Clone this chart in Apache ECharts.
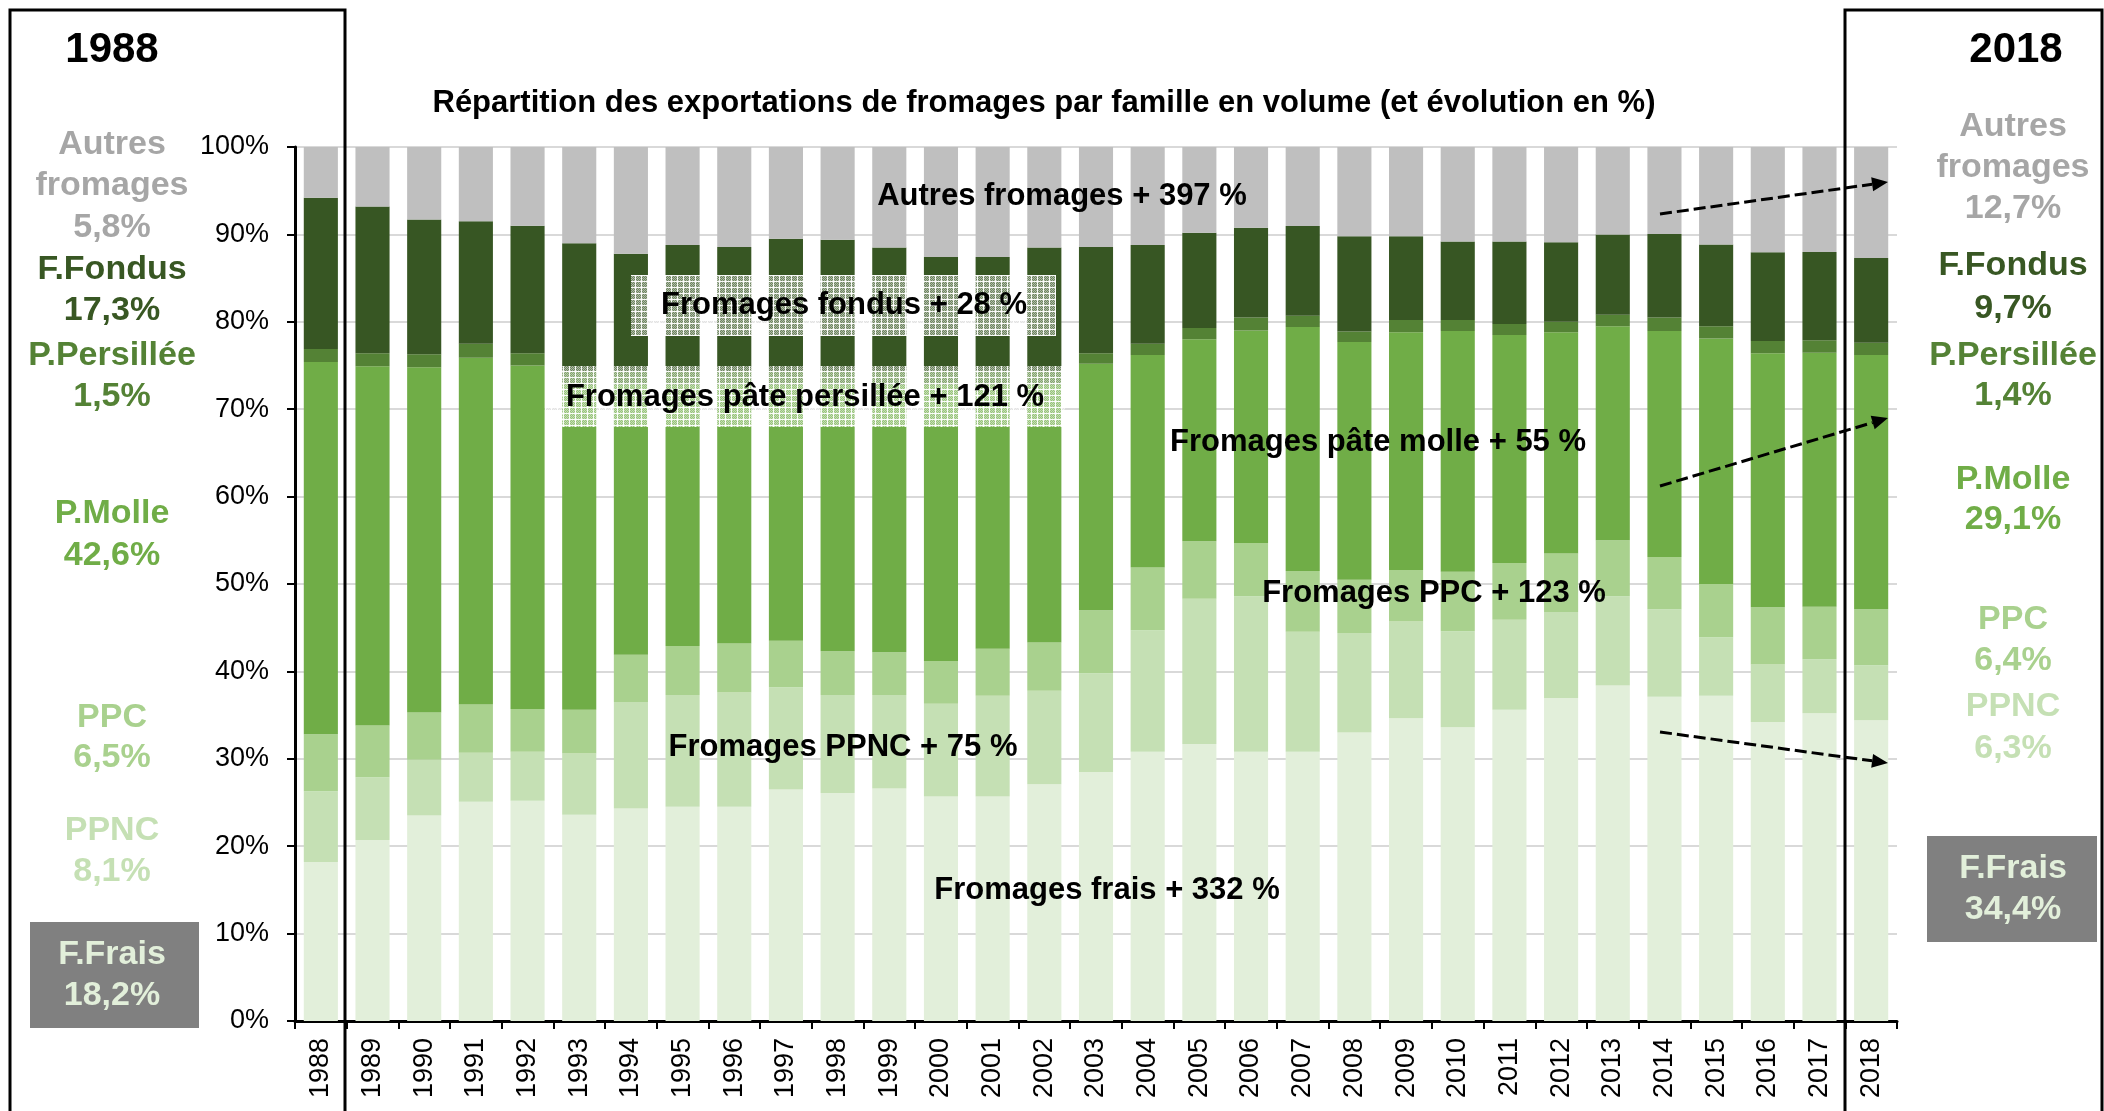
<!DOCTYPE html>
<html>
<head>
<meta charset="utf-8">
<title>Exportations de fromages</title>
<script src="https://cdn.jsdelivr.net/npm/echarts@6/dist/echarts.min.js"></script>
<style>
  html, body { margin: 0; padding: 0; background: #fff; }
  #chart { width: 2104px; height: 1111px; }
</style>
</head>
<body>
<div id="chart"></div>
<script>
// années
var years = ['1988', '1989', '1990', '1991', '1992', '1993', '1994', '1995', '1996', '1997',
  '1998', '1999', '2000', '2001', '2002', '2003', '2004', '2005', '2006', '2007',
  '2008', '2009', '2010', '2011', '2012', '2013', '2014', '2015', '2016', '2017', '2018'];

// part de chaque famille (%), de bas en haut de la pile
var frais = [18.2, 20.7, 23.5, 25.1, 25.2, 23.6, 24.3, 24.5, 24.5, 26.5,
  26.1, 26.6, 25.7, 25.7, 27.1, 28.5, 30.8, 31.7, 30.8, 30.8,
  33.0, 34.65, 33.6, 35.6, 36.95, 38.4, 37.1, 37.2, 34.2, 35.2, 34.4];
var ppnc = [8.1, 7.2, 6.4, 5.6, 5.6, 7.0, 12.2, 12.8, 13.1, 11.7,
  11.2, 10.7, 10.6, 11.5, 10.7, 11.3, 13.9, 16.6, 17.8, 13.75,
  11.4, 11.05, 11.0, 10.3, 9.85, 10.2, 10.0, 6.7, 6.6, 6.2, 6.3];
var ppc = [6.5, 5.9, 5.4, 5.5, 4.9, 5.0, 5.4, 5.6, 5.6, 5.3,
  5.0, 4.9, 4.9, 5.4, 5.5, 7.2, 7.2, 6.6, 6.1, 6.95,
  6.1, 5.9, 6.8, 6.5, 6.7, 6.4, 6.0, 6.1, 6.55, 6.0, 6.4];
var molle = [42.6, 41.1, 39.5, 39.7, 39.3, 37.2, 30.9, 29.9, 29.6, 29.3,
  30.5, 30.6, 31.6, 30.2, 29.5, 28.2, 24.3, 23.1, 24.3, 27.9,
  27.2, 27.2, 27.55, 26.1, 25.3, 24.5, 25.85, 28.1, 29.05, 29.05, 29.1];
var persillee = [1.5, 1.5, 1.5, 1.6, 1.4, 1.5, 1.5, 1.5, 1.5, 1.5,
  1.5, 1.5, 1.5, 1.5, 1.5, 1.2, 1.3, 1.3, 1.5, 1.3,
  1.2, 1.4, 1.25, 1.25, 1.2, 1.3, 1.55, 1.4, 1.4, 1.45, 1.4];
var fondus = [17.3, 16.8, 15.4, 14.0, 14.6, 14.7, 13.5, 14.5, 14.25, 15.2,
  15.1, 14.2, 13.1, 13.1, 14.2, 12.15, 11.3, 10.9, 10.25, 10.25,
  10.9, 9.6, 9.0, 9.45, 9.1, 9.2, 9.55, 9.35, 10.15, 10.1, 9.7];
var autres = [5.8, 6.8, 8.3, 8.5, 9.0, 11.0, 12.2, 11.2, 11.45, 10.5,
  10.6, 11.5, 12.6, 12.6, 11.5, 11.45, 11.2, 9.8, 9.25, 9.05,
  10.2, 10.2, 10.8, 10.8, 10.9, 10.0, 9.95, 11.15, 12.05, 12.0, 12.7];

var yTicks = [0, 10, 20, 30, 40, 50, 60, 70, 80, 90, 100];

// libellés des colonnes 1988 / 2018
var labels1988 = ['Autres', 'fromages', '5,8%', 'F.Fondus', '17,3%', 'P.Persillée', '1,5%',
  'P.Molle', '42,6%', 'PPC', '6,5%', 'PPNC', '8,1%', 'F.Frais', '18,2%'];
var labels2018 = ['Autres', 'fromages', '12,7%', 'F.Fondus', '9,7%', 'P.Persillée', '1,4%',
  'P.Molle', '29,1%', 'PPC', '6,4%', 'PPNC', '6,3%', 'F.Frais', '34,4%'];

var notes = ['Autres fromages + 397 %', 'Fromages fondus + 28 %', 'Fromages pâte persillée + 121 %',
  'Fromages pâte molle + 55 %', 'Fromages PPC + 123 %', 'Fromages PPNC + 75 %', 'Fromages frais + 332 %'];

var FONT = "'Liberation Sans', Arial, sans-serif";
var C_FRAIS = '#e2efda', C_PPNC = '#c5e0b4', C_PPC = '#a9d18e', C_MOLLE = '#70ad47',
  C_PERS = '#548235', C_FONDUS = '#375623', C_AUTRES = '#bfbfbf';

// motif quadrillé (blanc translucide) des encadrés
function makeHatch() {
  var c = document.createElement('canvas');
  c.width = 6; c.height = 6;
  var g = c.getContext('2d');
  for (var i = 0; i < 6; i++) {
    for (var j = 0; j < 6; j++) {
      g.fillStyle = (i + j) % 2 === 0 ? 'rgba(255,255,255,0.6)' : 'rgba(255,255,255,0.28)';
      g.fillRect(i, j, 1, 1);
    }
  }
  g.fillStyle = 'rgba(255,255,255,0.95)';
  g.fillRect(5, 0, 1, 6);
  g.fillRect(0, 5, 6, 1);
  return c;
}
var hatch = { image: makeHatch(), repeat: 'repeat' };

function txt(x, y, text, size, color) {
  return {
    type: 'text', z: 100, x: x, y: y,
    style: {
      text: text, fill: color, fontSize: size, fontWeight: 'bold', fontFamily: FONT,
      textAlign: 'center', textVerticalAlign: 'middle'
    }
  };
}

function arrow(x1, y1, x2, y2) {
  var a = Math.atan2(y2 - y1, x2 - x1);
  var len = 16, half = 7;
  var bx = x2 - len * Math.cos(a), by = y2 - len * Math.sin(a);
  var nx = -Math.sin(a), ny = Math.cos(a);
  return [{
    type: 'line', z: 100,
    shape: { x1: x1, y1: y1, x2: bx, y2: by },
    style: { stroke: '#000', lineWidth: 3, lineDash: [12, 5] }
  }, {
    type: 'polygon', z: 100,
    shape: { points: [[x2, y2], [bx + nx * half, by + ny * half], [bx - nx * half, by - ny * half]] },
    style: { fill: '#000' }
  }];
}

var colColorsTxt = ['#a6a6a6', '#a6a6a6', '#a6a6a6', '#385723', '#385723', '#548235', '#548235',
  '#70ad47', '#70ad47', '#a9d18e', '#a9d18e', '#c5e0b4', '#c5e0b4', C_FRAIS, C_FRAIS];
var leftY = [145, 186, 228, 270, 311, 356, 397, 514, 556, 718, 758, 831, 872, 955, 996];
var rightY = [127, 168, 209, 266, 309, 356, 396, 480, 520, 620, 661, 707, 749, 869, 910];

var graphics = [
  // encadrés 1988 et 2018
  { type: 'rect', z: 90, shape: { x: 10, y: 10, width: 335, height: 1200 },
    style: { fill: 'none', stroke: '#000', lineWidth: 3 } },
  { type: 'rect', z: 90, shape: { x: 1845, y: 10, width: 257, height: 1200 },
    style: { fill: 'none', stroke: '#000', lineWidth: 3 } },
  { type: 'rect', z: 95, shape: { x: 30, y: 922, width: 169, height: 106 }, style: { fill: '#808080' } },
  { type: 'rect', z: 95, shape: { x: 1927, y: 836, width: 170, height: 106 }, style: { fill: '#808080' } },
  // zones quadrillées
  { type: 'rect', z: 50, shape: { x: 631, y: 275, width: 425, height: 61 }, style: { fill: hatch } },
  { type: 'rect', z: 50, shape: { x: 545, y: 366, width: 520, height: 61 }, style: { fill: hatch } },
  txt(112, 50, '1988', 42, '#000'),
  txt(2016, 50, '2018', 42, '#000'),
  txt(1044, 103, 'Répartition des exportations de fromages par famille en volume (et évolution en %)', 31, '#000'),
  txt(1062, 196, notes[0], 31, '#000'),
  txt(844, 305, notes[1], 31, '#000'),
  txt(805, 397, notes[2], 31, '#000'),
  txt(1378, 442, notes[3], 31, '#000'),
  txt(1434, 593, notes[4], 31, '#000'),
  txt(843, 747, notes[5], 31, '#000'),
  txt(1107, 890, notes[6], 31, '#000')
];
for (var i = 0; i < labels1988.length; i++) {
  graphics.push(txt(112, leftY[i], labels1988[i], 34, colColorsTxt[i]));
  graphics.push(txt(2013, rightY[i], labels2018[i], 34, colColorsTxt[i]));
}
graphics = graphics.concat(arrow(1660, 214, 1888, 182));
graphics = graphics.concat(arrow(1660, 486, 1888, 418));
graphics = graphics.concat(arrow(1660, 732, 1888, 763));

var series = [
  { name: 'Fromages frais', data: frais, color: C_FRAIS },
  { name: 'PPNC', data: ppnc, color: C_PPNC },
  { name: 'PPC', data: ppc, color: C_PPC },
  { name: 'Pâte molle', data: molle, color: C_MOLLE },
  { name: 'Pâte persillée', data: persillee, color: C_PERS },
  { name: 'Fondus', data: fondus, color: C_FONDUS },
  { name: 'Autres fromages', data: autres, color: C_AUTRES }
].map(function (s) {
  return {
    name: s.name, type: 'bar', stack: 'total', barCategoryGap: '34%',
    itemStyle: { color: s.color }, data: s.data
  };
});

var myChart = echarts.init(document.getElementById('chart'));
var option = {
  animation: false,
  backgroundColor: '#fff',
  grid: { left: 295, right: 207, top: 147, bottom: 90, containLabel: false },
  xAxis: {
    type: 'category',
    data: years,
    axisLine: { lineStyle: { color: '#000', width: 3 } },
    axisTick: { show: true, length: 8, lineStyle: { color: '#000', width: 2 } },
    axisLabel: { rotate: 90, interval: 0, margin: 17, fontSize: 27, color: '#000', fontFamily: FONT }
  },
  yAxis: {
    type: 'value',
    min: yTicks[0],
    max: yTicks[yTicks.length - 1],
    interval: 10,
    axisLine: { show: true, lineStyle: { color: '#000', width: 3 } },
    axisTick: { show: true, length: 8, lineStyle: { color: '#000', width: 2 } },
    axisLabel: { formatter: '{value}%', margin: 26, fontSize: 27, color: '#000', fontFamily: FONT },
    splitLine: { show: true, lineStyle: { color: '#d9d9d9', width: 2 } }
  },
  series: series,
  graphic: graphics
};
myChart.setOption(option);
window.addEventListener('resize', function () {
  myChart.resize();
});
</script>
</body>
</html>
